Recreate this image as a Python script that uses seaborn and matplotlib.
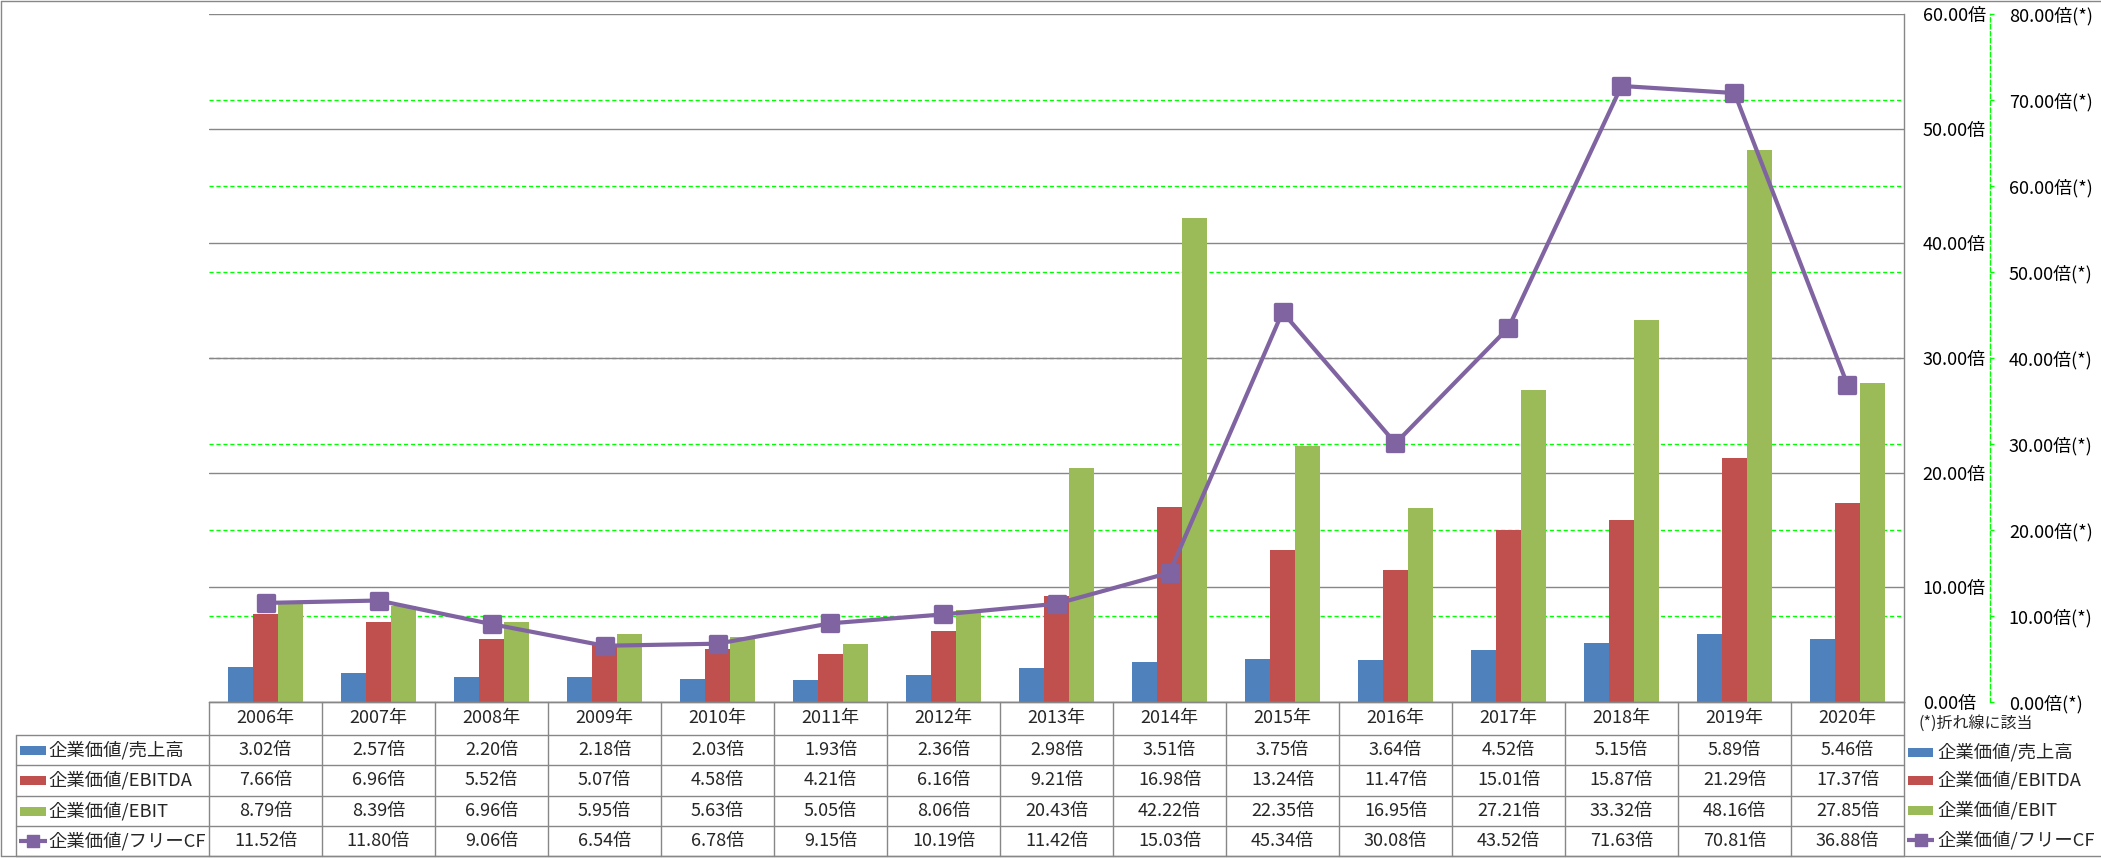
import numpy as np
import pandas as pd
import matplotlib
matplotlib.use("Agg")
import matplotlib.pyplot as plt
import matplotlib.transforms as mtransforms
from matplotlib.markers import MarkerStyle
from matplotlib.patches import Rectangle
from matplotlib.lines import Line2D
import seaborn as sns

# ---------------- data ----------------
years = ["2006年", "2007年", "2008年", "2009年", "2010年", "2011年", "2012年", "2013年",
         "2014年", "2015年", "2016年", "2017年", "2018年", "2019年", "2020年"]
series_names = ["企業価値/売上高", "企業価値/EBITDA", "企業価値/EBIT", "企業価値/フリーCF"]
ev_sales = [3.02, 2.57, 2.20, 2.18, 2.03, 1.93, 2.36, 2.98, 3.51, 3.75, 3.64, 4.52, 5.15, 5.89, 5.46]
ev_ebitda = [7.66, 6.96, 5.52, 5.07, 4.58, 4.21, 6.16, 9.21, 16.98, 13.24, 11.47, 15.01, 15.87, 21.29, 17.37]
ev_ebit = [8.79, 8.39, 6.96, 5.95, 5.63, 5.05, 8.06, 20.43, 42.22, 22.35, 16.95, 27.21, 33.32, 48.16, 27.85]
ev_fcf = [11.52, 11.80, 9.06, 6.54, 6.78, 9.15, 10.19, 11.42, 15.03, 45.34, 30.08, 43.52, 71.63, 70.81, 36.88]
primary_ticks = [0, 10, 20, 30, 40, 50, 60]
secondary_ticks = [0, 10, 20, 30, 40, 50, 60, 70, 80]
note_text = "(*)折れ線に該当"

colors = ["#4F81BD", "#C0504D", "#9BBB59", "#8064A2"]
GRAY = "#878787"
GREEN = "#00FF00"

sns.set_theme(style="white")
plt.rcParams["font.family"] = ["Noto Sans CJK JP", "DejaVu Sans"]
FS = 13
FS_LAB = 13.2

W, H = 2101, 858
fig = plt.figure(figsize=(W / 100, H / 100), dpi=100)


def fx(px):
    return px / W


def fy(py):
    return 1 - py / H


L, R, T, B = 209, 1904, 14, 702
n = len(years)
colw = (R - L) / n

ax = fig.add_axes([fx(L), fy(B), fx(R) - fx(L), fy(T) - fy(B)])
ax.patch.set_alpha(0)

df = pd.DataFrame({
    "year": years * 3,
    "series": np.repeat(series_names[:3], n),
    "value": ev_sales + ev_ebitda + ev_ebit,
})
sns.barplot(data=df, x="year", y="value", hue="series", hue_order=series_names[:3],
            palette=colors[:3], width=0.664, saturation=1, ax=ax, legend=False,
            errorbar=None, linewidth=0)

ax2 = ax.twinx()
sns.lineplot(x=np.arange(n), y=ev_fcf, ax=ax2, color=colors[3], lw=3.0,
             marker=MarkerStyle("s", joinstyle="round"), markersize=11.5,
             markeredgewidth=2.4, markeredgecolor=colors[3],
             markerfacecolor=colors[3])

ax.set_xlim(-0.5, n - 0.5)
ax.set_ylim(primary_ticks[0], primary_ticks[-1])
ax2.set_ylim(secondary_ticks[0], secondary_ticks[-1])

# secondary (green dashed) gridlines, drawn behind the gray gridlines and bars
trans = mtransforms.blended_transform_factory(ax.transAxes, ax2.transData)
for v in secondary_ticks[1:-1]:
    ax.add_line(Line2D([0, 1], [v, v], transform=trans, color=GREEN, lw=1.0,
                       ls=(0, (3, 2)), zorder=0.3))
ax.set_xlim(-0.5, n - 0.5)
ax.set_ylim(primary_ticks[0], primary_ticks[-1])

# primary axis (labels on the right)
ax.set_yticks(primary_ticks)
ax.set_yticklabels([f"{v:.2f}倍" for v in primary_ticks])
ax.yaxis.tick_right()
ax.tick_params(axis="y", length=0, pad=13.5, labelsize=FS, labelcolor="black")
ax.set_xticks([])
ax.set_xlabel("")
ax.set_ylabel("")
ax.yaxis.grid(True, color=GRAY, lw=1.0, zorder=0.5)
ax.set_axisbelow(True)
for s in ["left", "top"]:
    ax.spines[s].set_visible(False)
for s in ["right", "bottom"]:
    ax.spines[s].set_color(GRAY)
    ax.spines[s].set_linewidth(1.0)

# secondary axis
ax2.set_yticks(secondary_ticks)
ax2.set_yticklabels([f"{v:.2f}倍(*)" for v in secondary_ticks])
ax2.set_xlabel("")
ax2.set_ylabel("")
for s in ["left", "top", "bottom"]:
    ax2.spines[s].set_visible(False)
ax2.spines["right"].set_position(("outward", 62))
ax2.spines["right"].set_color(GREEN)
ax2.spines["right"].set_linestyle((0, (3, 2)))
ax2.spines["right"].set_linewidth(1.0)
ax2.tick_params(axis="y", direction="out", length=3, width=1, color=GREEN,
                pad=10.5, labelsize=FS, labelcolor="black")

# ---------------- data table ----------------
TL, TB = 16, 856
row_edges = [702, 735, 765, 796, 826, 856]
row_centers = [(row_edges[i] + row_edges[i + 1]) / 2 for i in range(len(row_edges) - 1)]
tax = fig.add_axes([fx(TL), fy(TB), fx(R) - fx(TL), fy(B) - fy(TB)])
xleft = -0.5 - (L - TL) / colw
tax.set_xlim(xleft, n - 0.5)
tax.set_ylim(TB, B)
tax.axis("off")


def px2x(px):
    return -0.5 + (px - L) / colw


line_kw = dict(color=GRAY, lw=1.0, clip_on=False)
for xb in np.arange(n + 1) - 0.5:
    tax.plot([xb, xb], [row_edges[0], row_edges[-1]], **line_kw)
tax.plot([xleft, xleft], [row_edges[1], row_edges[-1]], **line_kw)
tax.plot([-0.5, n - 0.5], [row_edges[0], row_edges[0]], **line_kw)
for yb in row_edges[1:]:
    tax.plot([xleft, n - 0.5], [yb, yb], **line_kw)

for i, y in enumerate(years):
    tax.text(i, row_centers[0], y, ha="center", va="center", fontsize=FS)
table_values = [ev_sales, ev_ebitda, ev_ebit, ev_fcf]
for r, vals in enumerate(table_values):
    yc = row_centers[r + 1]
    for i, v in enumerate(vals):
        tax.text(i, yc, f"{v:.2f}倍", ha="center", va="center", fontsize=FS)
    # legend key + label
    if r < 3:
        tax.add_patch(Rectangle((px2x(20), yc - 4.5), px2x(46) - px2x(20), 9,
                                color=colors[r], lw=0, clip_on=False))
    else:
        tax.plot([px2x(19), px2x(47)], [yc, yc], color=colors[3], lw=3.0,
                 clip_on=False, solid_capstyle="butt")
        tax.plot([px2x(33)], [yc], marker=MarkerStyle("s", joinstyle="round"),
                 markersize=9, color=colors[3], clip_on=False)
    tax.text(px2x(48), yc, series_names[r], ha="left", va="center", fontsize=FS_LAB)

# ---------------- overlay: right legend, note, border ----------------
oax = fig.add_axes([0, 0, 1, 1])
oax.set_xlim(0, W)
oax.set_ylim(H, 0)
oax.axis("off")
oax.patch.set_alpha(0)

oax.text(1918, 723, note_text, ha="left", va="center", fontsize=11.5)
leg_y = [752, 780, 810, 840]
for r, yc in enumerate(leg_y):
    if r < 3:
        oax.add_patch(Rectangle((1908, yc - 4.5), 25, 9, color=colors[r], lw=0))
    else:
        oax.plot([1907, 1934], [yc, yc], color=colors[3], lw=3.0, solid_capstyle="butt")
        oax.plot([1920.5], [yc], marker=MarkerStyle("s", joinstyle="round"),
                 markersize=9, color=colors[3])
    oax.text(1937, yc, series_names[r], ha="left", va="center", fontsize=FS_LAB)

oax.plot([1, 1], [1, 856], color=GRAY, lw=1.0)
oax.plot([1, W], [1, 1], color=GRAY, lw=1.0)
oax.plot([1, W], [856, 856], color=GRAY, lw=1.0)

fig.savefig("out.png", dpi=100)
